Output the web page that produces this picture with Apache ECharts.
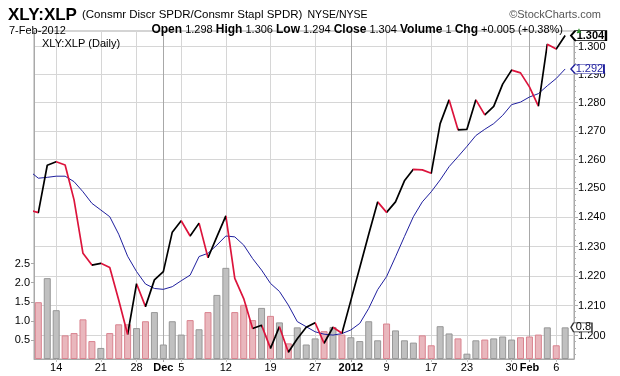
<!DOCTYPE html>
<html><head><meta charset="utf-8">
<script src="https://cdn.jsdelivr.net/npm/echarts@6/dist/echarts.min.js"></script>
<style>html,body{margin:0;padding:0;background:#fff}#c{width:620px;height:376px}</style>
</head><body><div id="c"></div>
<script>
// ---- data ----
const dates = ['2011-11-09','2011-11-10','2011-11-11','2011-11-14','2011-11-15','2011-11-16','2011-11-17','2011-11-18','2011-11-21','2011-11-22','2011-11-23','2011-11-25','2011-11-28','2011-11-29','2011-11-30','2011-12-01','2011-12-02','2011-12-05','2011-12-06','2011-12-07','2011-12-08','2011-12-09','2011-12-12','2011-12-13','2011-12-14','2011-12-15','2011-12-16','2011-12-19','2011-12-20','2011-12-21','2011-12-22','2011-12-23','2011-12-27','2011-12-28','2011-12-29','2011-12-30','2012-01-03','2012-01-04','2012-01-05','2012-01-06','2012-01-09','2012-01-10','2012-01-11','2012-01-12','2012-01-13','2012-01-17','2012-01-18','2012-01-19','2012-01-20','2012-01-23','2012-01-24','2012-01-25','2012-01-26','2012-01-27','2012-01-30','2012-01-31','2012-02-01','2012-02-02','2012-02-03','2012-02-06','2012-02-07'];
const closes = [1.2425,1.2416,1.2580,1.2592,1.2581,1.2460,1.2277,1.2237,1.2243,1.2229,1.2119,1.2004,1.2174,1.2097,1.2187,1.2215,1.2349,1.2388,1.2336,1.2380,1.2262,1.2334,1.2405,1.2192,1.2124,1.2024,1.2035,1.1958,1.2030,1.1945,1.1990,1.2028,1.2043,1.1975,1.2028,1.2008,1.2118,1.2229,1.2342,1.2453,1.2417,1.2453,1.2526,1.2566,1.2564,1.2552,1.2726,1.2810,1.2704,1.2706,1.2810,1.2757,1.2787,1.2866,1.2916,1.2906,1.2856,1.2788,1.3009,1.2992,1.3040];
const movingAvg = [1.2560,1.2535,1.2538,1.2542,1.2542,1.2523,1.2488,1.2448,1.2425,1.2402,1.2342,1.2267,1.2215,1.2173,1.2158,1.2155,1.2164,1.2184,1.2203,1.2266,1.2277,1.2305,1.2336,1.2333,1.2305,1.2259,1.2220,1.2175,1.2148,1.2102,1.2047,1.2030,1.2013,1.2005,1.2002,1.2007,1.2019,1.2041,1.2091,1.2154,1.2198,1.2265,1.2334,1.2402,1.2453,1.2488,1.2529,1.2575,1.2610,1.2646,1.2684,1.2706,1.2726,1.2755,1.2793,1.2802,1.2820,1.2832,1.2860,1.2886,1.2920];
const volumes = [null,1.49,2.12,1.28,0.62,0.68,1.04,0.47,0.29,0.68,0.91,0.91,0.81,0.99,1.23,0.38,0.99,0.64,1.02,0.78,1.23,1.68,2.39,1.23,1.42,1.02,1.34,1.13,0.96,0.41,0.83,0.38,0.54,0.73,0.84,0.64,0.57,0.47,0.99,0.49,0.93,0.75,0.49,0.43,0.62,0.36,0.86,0.67,0.54,0.14,0.49,0.51,0.54,0.59,0.51,0.57,0.59,0.64,0.83,0.36,0.83];
const xTickDates = ['2011-11-14','2011-11-21','2011-11-28','2011-12-01','2011-12-05','2011-12-12','2011-12-19','2011-12-27','2012-01-03','2012-01-09','2012-01-17','2012-01-23','2012-01-30','2012-02-01','2012-02-06'];
const xTickLabels = ['14','21','28','Dec','5','12','19','27','2012','9','17','23','30','Feb','6'];
const monthStartDates = ['2011-12-01','2012-01-03','2012-02-01'];
const priceTicks = [1.200,1.210,1.220,1.230,1.240,1.250,1.260,1.270,1.280,1.290,1.300];
const volumeTicks = [0.5,1.0,1.5,2.0,2.5];

// ---- build ----
const idx = d => dates.indexOf(d);
const last = dates.length - 1;
const labelByIdx = {};
xTickDates.forEach((d, k) => { labelByIdx[idx(d)] = xTickLabels[k]; });
const monthIdx = monthStartDates.map(idx);
const tickIdx = xTickDates.map(idx);
const plainTickIdx = tickIdx.filter(i => monthIdx.indexOf(i) < 0);
const minorTicks = [];
for (let v = 1.194; v < 1.3055; v += 0.002) minorTicks.push(+v.toFixed(3));

const RED = '#dc143c', BLACK = '#000000', BLUE = '#1f1f9e';
const pieces = [];
for (let i = 0; i < last; i++) {
  pieces.push({gte: i, lt: i + 1, color: closes[i + 1] >= closes[i] ? BLACK : RED});
}
pieces.push({gte: last, lte: last + 1, color: BLACK});

const volData = volumes.map((v, i) => {
  if (v == null) return null;
  const down = closes[i] < closes[i - 1];
  return {value: [i, v], itemStyle: {color: down ? '#e9b7bd' : '#c0c0c0', borderColor: down ? '#d9838f' : '#979797', borderWidth: 1}};
});
const xMin = 1 - 0.485, xMax = 1 + 59.99;
const FONT = 'Liberation Sans, Arial, sans-serif';
const tagPath = 'path://M0,5L5,0L40,0L40,10L5,10Z';

const chart = echarts.init(document.getElementById('c'), null, {renderer: 'canvas'});
chart.setOption({
  animation: false,
  backgroundColor: '#ffffff',
  textStyle: {fontFamily: FONT},
  title: [
    {left: 3, top: 1, text: '{a|XLY:XLP} {b|(Consmr Discr SPDR/Consmr Stapl SPDR)} {c|NYSE/NYSE}',
     textStyle: {fontWeight: 'normal', rich: {a: {fontSize: 17, fontWeight: 'bold', color: '#000', fontFamily: FONT},
       b: {fontSize: 11.5, fontWeight: 'normal', color: '#000', fontFamily: FONT}, c: {fontSize: 10.5, fontWeight: 'normal', color: '#000', fontFamily: FONT}}}},
    {left: 4, top: 20, text: '7-Feb-2012', textStyle: {fontSize: 11, fontWeight: 'normal', color: '#000', fontFamily: FONT}},
    {right: 52, top: 19, text: '{b|Open} 1.298 {b|High} 1.306 {b|Low} 1.294 {b|Close} 1.304 {b|Volume} 1 {b|Chg} +0.005 (+0.38%)',
     textStyle: {fontSize: 11, fontWeight: 'normal', color: '#000', fontFamily: FONT,
       rich: {b: {fontSize: 12, fontWeight: 'bold', color: '#000', fontFamily: FONT}}}},
    {left: 570, top: 22, text: '\u25B2', textStyle: {fontSize: 8, color: '#2e8b2e', fontWeight: 'normal'}},
    {right: 14, top: 4, text: '\u00A9StockCharts.com', textStyle: {fontSize: 11, fontWeight: 'normal', color: '#555', fontFamily: FONT}},
    {left: 37, top: 33, text: 'XLY:XLP (Daily)', textStyle: {fontSize: 11, fontWeight: 'normal', color: '#000', fontFamily: FONT}}
  ],
  grid: {left: 34, right: 46, top: 31, bottom: 17, show: true, borderColor: '#a9a9a9', borderWidth: 1, backgroundColor: '#fff'},
  visualMap: {type: 'piecewise', show: false, seriesIndex: 1, dimension: 0, pieces: pieces},
  xAxis: [
    {type: 'value', min: xMin, max: xMax, position: 'bottom',
     axisLine: {show: true, lineStyle: {color: '#a9a9a9'}},
     axisTick: {show: true, length: 3, customValues: plainTickIdx, lineStyle: {color: '#c8c8c8'}},
     axisLabel: {customValues: tickIdx, margin: 3, fontSize: 11, color: '#000', fontFamily: FONT,
       formatter: v => { const t = labelByIdx[Math.round(v)] || ''; return /^[A-Z]|^20/.test(t) ? '{b|' + t + '}' : t; },
       rich: {b: {fontWeight: 'bold', fontSize: 11, color: '#000', fontFamily: FONT}}},
     splitLine: {show: true, lineStyle: {color: '#d6d6d6', width: 1}}},
    {type: 'value', min: xMin, max: xMax, position: 'bottom',
     axisLine: {show: false}, axisLabel: {show: false},
     axisTick: {show: true, length: 3, customValues: monthIdx, lineStyle: {color: '#a0a0a0'}},
     splitLine: {show: true, lineStyle: {color: '#a8a8a8', width: 1}}}
  ],
  yAxis: [
    {type: 'value', min: 0, max: 8.6, position: 'left',
     axisLine: {show: true, lineStyle: {color: '#a9a9a9'}},
     axisTick: {show: true, length: 3, customValues: volumeTicks, lineStyle: {color: '#a9a9a9'}},
     axisLabel: {customValues: volumeTicks, margin: 4, fontSize: 11, color: '#000', fontFamily: FONT, formatter: v => v.toFixed(1)},
     splitLine: {show: false}},
    {type: 'log', logBase: 10, min: 1.19228, max: 1.30566, position: 'right',
     axisLine: {show: true, lineStyle: {color: '#a9a9a9'}},
     axisTick: {show: true, length: 4, customValues: priceTicks, lineStyle: {color: '#a9a9a9'}},
     axisLabel: {customValues: priceTicks, margin: 4, fontSize: 11, color: '#000', fontFamily: FONT, formatter: v => (+v).toFixed(3)},
     splitLine: {show: true, lineStyle: {color: '#d6d6d6', width: 1}}},
    {type: 'log', logBase: 10, min: 1.19228, max: 1.30566, position: 'right',
     axisLine: {show: false}, axisLabel: {show: false},
     axisTick: {show: true, length: 2, customValues: minorTicks, lineStyle: {color: '#b0b0b0'}},
     splitLine: {show: false}}
  ],
  series: [
    {type: 'bar', name: 'Volume', xAxisIndex: 0, yAxisIndex: 0, barWidth: 7, data: volData, z: 1, clip: true,
     markPoint: {symbol: tagPath, symbolSize: [21, 9], symbolKeepAspect: false, symbolOffset: [16.3, 0],
       itemStyle: {color: '#fff', borderColor: '#333', borderWidth: 1},
       label: {show: true, position: 'inside', offset: [2, 0], fontSize: 11, color: '#000', fontFamily: FONT, formatter: p => (+p.value).toFixed(1)},
       data: [{coord: [last, volumes[last]], value: volumes[last]}]}},
    {type: 'line', name: 'XLY:XLP', xAxisIndex: 0, yAxisIndex: 1, showSymbol: false, symbol: 'none', z: 4, clip: true,
     data: closes.map((v, i) => [i, v]), lineStyle: {width: 1.7},
     markPoint: {symbol: tagPath, symbolSize: [35, 10], symbolKeepAspect: false, symbolOffset: [23.3, 0],
       itemStyle: {color: '#fff', borderColor: '#000', borderWidth: 1.3},
       label: {show: true, position: 'inside', offset: [2, 0], fontSize: 11, fontWeight: 'bold', color: '#000', fontFamily: FONT, formatter: p => (+p.value).toFixed(3)},
       data: [{coord: [last, closes[last]], value: closes[last]}]}},
    {type: 'line', name: 'MA', xAxisIndex: 0, yAxisIndex: 1, showSymbol: false, symbol: 'none', z: 3, clip: true,
     data: movingAvg.map((v, i) => [i, v]), lineStyle: {width: 1, color: BLUE}, itemStyle: {color: BLUE},
     markPoint: {symbol: tagPath, symbolSize: [33, 9], symbolKeepAspect: false, symbolOffset: [22.3, 0],
       itemStyle: {color: '#fff', borderColor: BLUE, borderWidth: 1},
       label: {show: true, position: 'inside', offset: [2, 0], fontSize: 11, color: BLUE, fontFamily: FONT, formatter: p => (+p.value).toFixed(3)},
       data: [{coord: [last, movingAvg[last]], value: movingAvg[last]}]}}
  ]
});
</script></body></html>
